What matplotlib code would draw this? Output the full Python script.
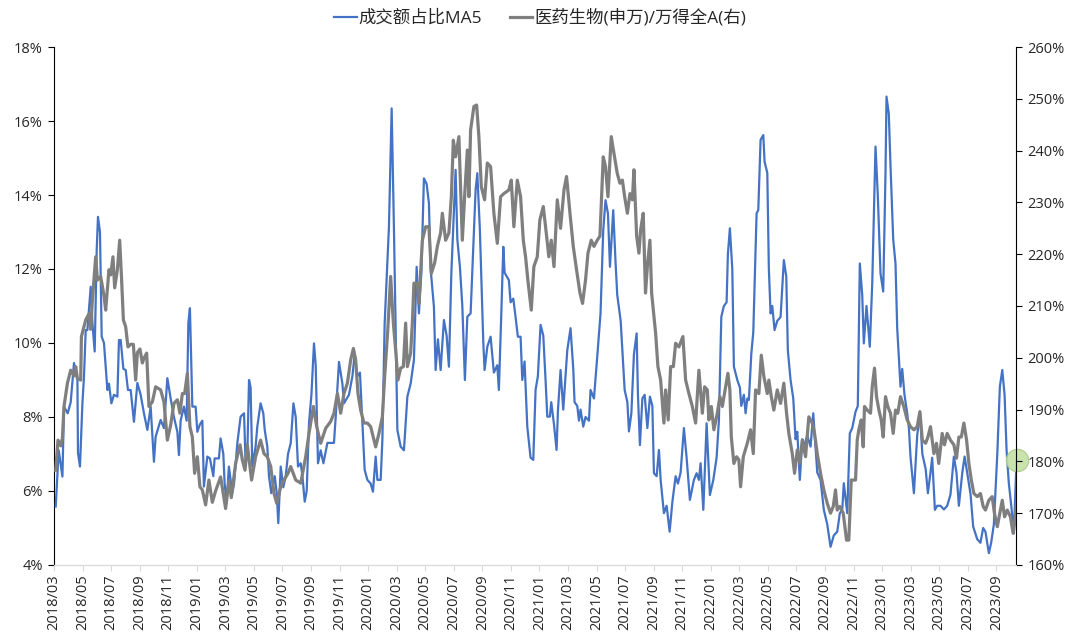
import matplotlib
matplotlib.use("Agg")
from matplotlib import pyplot as plt

plt.rcParams['font.family'] = ['Open Sans', 'Noto Sans CJK SC', 'DejaVu Sans']

# x values are months counted from 2018/03 (0 = 2018/03, 66 = 2023/09)
blue_t = [0.12, 0.33, 0.59, 0.70, 0.96, 1.17, 1.40, 1.64, 1.68, 1.82, 1.99, 2.10, 2.22, 2.34,
          2.57, 2.69, 2.85, 2.99, 3.08, 3.22, 3.34, 3.50, 3.74, 3.85, 4.02, 4.20, 4.44, 4.55,
          4.67, 4.86, 5.02, 5.18, 5.37, 5.60, 5.84, 6.07, 6.30, 6.54, 6.77, 7.00, 7.12, 7.47,
          7.70, 7.94, 8.17, 8.40, 8.64, 8.75, 8.87, 9.10, 9.29, 9.41, 9.52, 9.69, 9.92, 10.04,
          10.22, 10.39, 10.50, 10.74, 10.92, 11.16, 11.25, 11.55, 11.67, 11.86, 11.95, 12.09,
          12.25, 12.49, 12.61, 12.84, 13.07, 13.31, 13.42, 13.54, 13.66, 13.77, 13.89, 14.12,
          14.24, 14.47, 14.66, 14.76, 14.94, 15.06, 15.22, 15.46, 15.60, 15.71, 15.88, 16.06,
          16.23, 16.39, 16.58, 16.77, 16.93, 17.09, 17.28, 17.40, 17.56, 17.70, 17.86, 18.03,
          18.21, 18.33, 18.49, 18.68, 18.87, 19.15, 19.61, 19.73, 19.96, 20.20, 20.31, 20.66,
          20.90, 21.06, 21.25, 21.43, 21.60, 21.76, 21.95, 22.18, 22.34, 22.53, 22.65, 22.88,
          23.00, 23.16, 23.46, 23.65, 23.81, 24.05, 24.28, 24.51, 24.75, 24.98, 25.21, 25.40,
          25.56, 25.73, 25.91, 26.10, 26.26, 26.38, 26.61, 26.73, 26.89, 27.08, 27.31, 27.50,
          27.66, 27.83, 28.13, 28.25, 28.43, 28.60, 28.78, 28.95, 29.18, 29.53, 29.65, 29.83,
          30.07, 30.16, 30.35, 30.58, 30.81, 31.05, 31.16, 31.33, 31.47, 31.56, 31.86, 31.98,
          32.17, 32.33, 32.49, 32.68, 32.80, 32.96, 33.15, 33.38, 33.57, 33.73, 33.89, 34.08,
          34.27, 34.43, 34.55, 34.73, 34.83, 35.02, 35.20, 35.30, 35.48, 35.67, 35.83, 35.95,
          36.18, 36.37, 36.46, 36.65, 36.77, 36.88, 37.07, 37.23, 37.47, 37.58, 37.82, 38.05,
          38.28, 38.47, 38.63, 38.80, 38.94, 39.17, 39.33, 39.45, 39.69, 39.81, 39.97, 40.16,
          40.27, 40.44, 40.62, 40.81, 40.90, 41.04, 41.21, 41.37, 41.56, 41.74, 41.91, 42.02,
          42.21, 42.37, 42.49, 42.72, 42.91, 43.12, 43.31, 43.54, 43.70, 43.89, 44.12, 44.31,
          44.54, 44.82, 45.01, 45.17, 45.29, 45.48, 45.71, 45.94, 46.18, 46.41, 46.57, 46.74,
          46.92, 47.11, 47.20, 47.34, 47.51, 47.62, 47.86, 48.04, 48.14, 48.32, 48.44, 48.56,
          48.67, 48.84, 48.98, 49.21, 49.33, 49.49, 49.68, 49.77, 49.96, 50.07, 50.19, 50.31,
          50.47, 50.66, 50.89, 51.12, 51.29, 51.40, 51.59, 51.78, 51.94, 52.06, 52.24, 52.41,
          52.52, 52.76, 52.99, 53.18, 53.34, 53.46, 53.69, 53.92, 54.16, 54.39, 54.62, 54.86,
          55.04, 55.21, 55.32, 55.44, 55.56, 55.74, 55.91, 56.14, 56.30, 56.44, 56.61, 56.72,
          56.91, 57.14, 57.31, 57.54, 57.70, 57.89, 58.08, 58.24, 58.31, 58.47, 58.59, 58.78,
          58.94, 59.06, 59.29, 59.41, 59.57, 59.76, 59.88, 59.99, 60.23, 60.46, 60.65, 60.82,
          61.05, 61.21, 61.39, 61.51, 61.70, 61.86, 62.09, 62.33, 62.56, 62.79, 63.03, 63.21,
          63.38, 63.62, 63.78, 63.96, 64.20, 64.38, 64.66, 64.89, 65.08, 65.24, 65.48, 65.64,
          65.83, 66.07, 66.25, 66.42, 66.58, 66.72, 66.88, 67.05, 67.23, 67.42]
# 成交额占比MA5 (%)
blue_v = [5.58, 7.1, 6.39, 8.28, 8.1, 8.4, 9.46, 9.0, 7.03, 6.66, 8.37, 9.09, 10.35, 10.35,
          11.52, 10.54, 9.77, 12.5, 13.41, 13.0, 10.17, 10.0, 8.73, 8.9, 8.37, 8.6, 8.55, 10.08,
          10.08, 9.3, 9.27, 8.73, 8.73, 7.87, 8.92, 8.6, 8.1, 7.65, 8.28, 6.79, 7.47, 7.92,
          7.7, 9.05, 8.5, 8.0, 7.6, 6.97, 7.9, 8.28, 7.9, 10.54, 10.94, 8.28, 8.28, 7.6,
          7.8, 7.9, 6.12, 6.93, 6.88, 6.4, 6.88, 6.88, 7.42, 7.0, 6.21, 5.67,
          6.66, 5.94, 6.2, 7.29, 8.01, 8.1, 6.75, 7.0, 9.0, 8.8, 6.66, 7.2,
          7.74, 8.37, 8.1, 7.65, 7.2, 6.39, 5.94, 6.4, 5.94, 5.13, 6.66, 6.1,
          6.4, 7.0, 7.29, 8.37, 8.0, 6.66, 6.75, 6.4, 5.71, 6.0, 7.83, 8.6,
          9.99, 9.4, 6.75, 7.1, 6.75, 7.3, 7.3, 8.0, 9.49, 8.9, 8.37, 8.6,
          9.1, 9.7, 9.1, 9.2, 7.83, 6.57, 6.3, 6.2, 5.98, 6.93, 6.3, 6.3,
          7.38, 10.53, 13.14, 16.34, 13.1, 7.65, 7.2, 7.1, 8.55, 8.9, 9.54, 12.06,
          10.8, 11.9, 14.45, 14.3, 13.78, 12.0, 10.98, 9.27, 10.1, 9.27, 10.62, 10.2,
          9.36, 11.88, 14.68, 12.8, 12.06, 11.0, 9.0, 10.71, 10.8, 14.14, 14.59, 13.05,
          10.0, 9.27, 9.9, 10.17, 9.2, 9.4, 8.73, 10.8, 12.6, 11.9, 11.7, 11.1,
          11.2, 10.7, 10.17, 10.17, 9.0, 9.5, 7.74, 6.9, 6.84, 8.73, 9.1, 10.49,
          10.2, 9.0, 8.01, 8.01, 8.4, 7.8, 7.11, 8.2, 9.27, 8.2, 9.1, 9.8,
          10.4, 9.3, 8.4, 8.3, 7.9, 8.2, 7.74, 8.0, 7.9, 8.73, 8.5, 9.63,
          10.8, 13.05, 13.86, 13.5, 12.06, 13.59, 12.2, 11.3, 10.6, 9.8, 8.73, 8.4,
          7.61, 8.1, 9.7, 10.26, 8.6, 7.24, 8.5, 8.6, 7.7, 8.55, 8.3, 6.48,
          6.4, 7.11, 6.3, 5.4, 5.6, 4.9, 5.7, 6.4, 6.2, 6.5, 7.7, 6.9,
          5.76, 6.3, 6.48, 6.3, 6.75, 5.49, 7.83, 5.89, 6.3, 6.9, 7.9, 10.71,
          11.0, 11.1, 12.4, 13.1, 12.0, 9.36, 9.0, 8.8, 8.3, 8.6, 8.1, 8.5,
          8.46, 9.7, 10.3, 13.5, 13.6, 15.49, 15.62, 14.9, 14.6, 12.0, 10.8, 11.0,
          10.35, 10.6, 10.7, 12.24, 11.8, 9.8, 9.0, 8.5, 7.4, 7.6, 6.3, 7.4,
          7.2, 7.5, 7.2, 8.1, 7.2, 6.5, 6.3, 5.49, 5.1, 4.49, 4.8, 4.9,
          5.4, 5.5, 6.21, 5.8, 5.4, 7.56, 7.7, 8.14, 8.3, 12.15, 11.3, 9.99,
          11.0, 9.9, 11.6, 15.31, 14.0, 11.88, 11.39, 14.6, 16.66, 16.2, 14.8, 12.8,
          12.15, 10.4, 8.82, 9.3, 8.6, 8.1, 7.7, 6.93, 5.94, 7.5, 8.14, 7.0,
          6.6, 5.94, 6.5, 6.9, 5.49, 5.6, 5.6, 5.5, 5.6, 5.9, 6.93, 6.5,
          5.6, 6.5, 6.93, 6.5, 5.9, 5.04, 4.7, 4.6, 5.0, 4.9, 4.32, 4.6,
          5.1, 7.0, 8.82, 9.27, 8.6, 7.1, 6.2, 5.6, 4.86, 6.85]

gray_t = [0.12, 0.28, 0.47, 0.59, 0.70, 0.94, 1.17, 1.40, 1.52, 1.64, 1.87, 1.92, 2.22, 2.45,
          2.57, 2.69, 2.92, 3.04, 3.27, 3.50, 3.62, 3.85, 3.97, 4.13, 4.25, 4.44, 4.60, 4.72,
          4.86, 5.02, 5.18, 5.37, 5.56, 5.72, 5.84, 6.02, 6.19, 6.30, 6.49, 6.65, 6.89, 7.12,
          7.47, 7.70, 7.94, 8.17, 8.40, 8.64, 8.82, 8.99, 9.15, 9.34, 9.52, 9.69, 9.85, 10.04,
          10.22, 10.39, 10.62, 10.85, 11.09, 11.32, 11.67, 12.02, 12.25, 12.42, 12.72, 13.03,
          13.19, 13.38, 13.54, 13.84, 14.12, 14.47, 14.71, 14.94, 15.18, 15.41, 15.60, 15.88,
          16.11, 16.39, 16.58, 16.93, 17.28, 17.63, 17.86, 18.17, 18.40, 18.68, 19.03, 19.38,
          19.61, 19.85, 20.08, 20.31, 20.55, 20.78, 20.97, 21.13, 21.29, 21.48, 21.71, 21.95,
          22.18, 22.53, 22.76, 23.00, 23.16, 23.37, 23.58, 23.77, 23.93, 24.09, 24.28, 24.47,
          24.63, 24.75, 24.98, 25.10, 25.21, 25.45, 25.56, 25.80, 26.03, 26.26, 26.43, 26.66,
          26.85, 27.08, 27.20, 27.43, 27.66, 27.83, 27.97, 28.13, 28.36, 28.60, 28.76, 28.95,
          29.06, 29.18, 29.41, 29.60, 29.76, 29.93, 30.16, 30.35, 30.58, 30.81, 31.05, 31.28,
          31.51, 31.86, 32.03, 32.21, 32.45, 32.68, 32.87, 33.03, 33.19, 33.43, 33.61, 33.85,
          34.03, 34.27, 34.43, 34.66, 34.83, 35.02, 35.25, 35.48, 35.72, 35.90, 36.14, 36.37,
          36.60, 36.84, 37.02, 37.23, 37.40, 37.63, 37.82, 38.05, 38.24, 38.47, 38.63, 38.80,
          39.03, 39.22, 39.45, 39.64, 39.81, 39.97, 40.16, 40.34, 40.51, 40.62, 40.81, 40.97,
          41.09, 41.27, 41.43, 41.56, 41.74, 41.86, 42.02, 42.14, 42.30, 42.49, 42.72, 42.84,
          43.02, 43.19, 43.38, 43.54, 43.77, 44.05, 44.24, 44.47, 44.71, 44.94, 45.17, 45.41,
          45.57, 45.76, 45.87, 46.04, 46.22, 46.46, 46.64, 46.81, 47.04, 47.20, 47.34, 47.44,
          47.62, 47.81, 47.97, 48.09, 48.28, 48.56, 48.79, 48.98, 49.14, 49.37, 49.54, 49.72,
          49.96, 50.07, 50.24, 50.42, 50.66, 50.89, 51.12, 51.31, 51.47, 51.71, 51.87, 52.06,
          52.24, 52.41, 52.64, 52.87, 53.11, 53.27, 53.46, 53.69, 53.92, 54.16, 54.39, 54.58,
          54.74, 54.86, 55.04, 55.28, 55.51, 55.67, 55.84, 56.14, 56.26, 56.37, 56.54, 56.68,
          56.77, 56.96, 57.19, 57.31, 57.47, 57.61, 57.78, 57.94, 58.08, 58.24, 58.40, 58.59,
          58.78, 58.94, 59.10, 59.29, 59.52, 59.76, 59.99, 60.23, 60.46, 60.65, 60.82, 61.05,
          61.21, 61.39, 61.63, 61.81, 61.97, 62.21, 62.37, 62.56, 62.79, 63.03, 63.21, 63.38,
          63.55, 63.73, 63.92, 64.08, 64.25, 64.43, 64.67, 64.89, 65.08, 65.24, 65.48, 65.71,
          65.87, 66.07, 66.25, 66.42, 66.58, 66.77, 66.99, 67.18, 67.34, 67.46]
# 医药生物(申万)/万得全A (%)
gray_v = [178.3, 184.1, 183.0, 184.5, 190.6, 195.1, 197.6, 196.5, 198.3, 196.0, 195.7, 204.1,
          207.3, 208.5, 205.5, 211.2, 219.5, 215.0, 215.7, 212.0, 209.2, 217.0, 216.0, 219.5,
          213.5, 217.0, 222.7, 216.0, 207.3, 206.0, 202.1, 202.6, 202.6, 195.7, 201.0, 201.7,
          199.0, 199.9, 200.9, 190.6, 191.5, 194.4, 193.8, 191.5, 184.1, 187.0, 191.2, 191.9,
          189.3, 193.1, 193.1, 197.0, 186.7, 184.7, 177.7, 180.9, 175.1, 174.5, 171.6, 176.4,
          172.1, 174.3, 177.0, 170.9, 176.2, 173.0, 179.6, 183.2, 180.3, 178.3, 183.2, 176.4,
          180.9, 184.1, 181.5, 180.9, 179.0, 173.8, 171.9, 175.1, 176.4, 177.7, 179.0, 176.4,
          175.8, 180.9, 185.4, 190.6, 186.7, 183.5, 186.4, 187.7, 189.3, 193.1, 189.3, 193.1,
          195.1, 199.6, 201.8, 199.6, 193.1, 189.9, 187.4, 187.4, 186.7, 182.8, 185.4, 188.6,
          196.4, 205.0, 215.7, 206.7, 201.5, 195.7, 198.0, 198.3, 206.7, 198.3, 200.9, 206.7,
          214.4, 214.4, 210.5, 222.7, 225.3, 225.3, 216.3, 218.3, 221.5, 224.1, 227.9, 222.7,
          224.1, 231.1, 242.0, 238.8, 242.7, 222.7, 231.1, 240.1, 231.1, 244.0, 248.5, 248.8,
          242.7, 233.0, 230.5, 237.6, 236.9, 227.9, 222.1, 231.1, 231.7, 232.4, 234.3, 225.3,
          234.3, 231.1, 222.7, 219.5, 215.0, 209.2, 217.6, 219.5, 226.6, 229.2, 225.3, 219.5,
          222.7, 217.6, 230.5, 225.0, 232.4, 235.0, 227.9, 221.5, 217.0, 212.5, 210.5, 215.0,
          220.2, 222.7, 221.5, 222.7, 223.5, 238.8, 236.9, 231.1, 242.7, 239.5, 235.6, 233.7,
          234.3, 231.1, 227.9, 231.7, 230.5, 236.3, 223.5, 220.2, 224.7, 227.9, 212.5, 217.6,
          222.7, 212.5, 208.0, 204.7, 198.3, 195.7, 187.4, 193.8, 188.0, 198.3, 198.3, 202.8,
          202.1, 204.1, 195.7, 193.1, 190.6, 187.4, 197.6, 189.3, 194.4, 193.8, 188.0, 190.6,
          186.1, 189.3, 192.5, 190.6, 194.4, 197.0, 193.8, 184.7, 179.6, 180.9, 180.3, 175.1,
          180.9, 183.5, 186.1, 181.5, 193.8, 193.1, 200.5, 196.4, 193.1, 195.7, 192.5, 189.9,
          193.8, 191.2, 195.1, 189.3, 185.4, 181.5, 177.7, 182.2, 179.6, 184.1, 180.9, 188.6,
          187.4, 185.4, 181.5, 177.7, 174.5, 171.9, 170.0, 171.3, 174.5, 170.6, 171.3, 170.0,
          164.8, 164.8, 176.4, 176.4, 184.1, 186.1, 188.0, 182.8, 190.6, 189.9, 189.3, 194.4,
          198.0, 192.5, 189.9, 188.0, 184.7, 192.5, 190.6, 189.3, 185.4, 189.9, 189.3, 192.5,
          190.6, 188.0, 186.7, 186.1, 186.7, 189.6, 184.1, 183.5, 184.7, 186.7, 181.5, 183.5,
          179.6, 185.4, 183.2, 185.4, 184.1, 183.2, 180.6, 184.7, 184.7, 187.4, 184.1, 179.6,
          176.4, 173.8, 173.2, 173.8, 171.3, 170.6, 172.5, 173.2, 170.0, 167.4, 170.0, 172.5,
          169.3, 170.6, 169.3, 166.1, 169.3, 173.2]

label_blue = "成交额占比MA5"
label_gray = "医药生物(申万)/万得全A(右)"

BLUE = "#4472C4"
GRAY = "#7F7F7F"
TXT = "#262626"

fig = plt.figure(figsize=(10.8, 6.44), dpi=100)
ax = fig.add_axes([0.05, 0.1227, 0.891, 0.8043])
ax2 = ax.twinx()

l1, = ax.plot(blue_t, blue_v, color=BLUE, lw=1.6, zorder=3)
l2, = ax2.plot(gray_t, gray_v, color=GRAY, lw=2.3, zorder=2)

# highlight on the latest blue value
ax.scatter([blue_t[-1]], [blue_v[-1]], s=260, color="#C5E0A5", edgecolor="#A9C98A",
           linewidth=0.8, alpha=0.9, zorder=5, clip_on=False)

ax.set_xlim(0, 67.4)
ax.set_ylim(4, 18)
ax2.set_ylim(160, 260)

ax.set_yticks(range(4, 19, 2))
ax.set_yticklabels([f"{v}%" for v in range(4, 19, 2)])
ax2.set_yticks(range(160, 261, 10))
ax2.set_yticklabels([f"{v}%" for v in range(160, 261, 10)])

ticks = list(range(0, 67, 2))
labels = []
for m in ticks:
    y = 2018 + (2 + m) // 12
    mo = (2 + m) % 12 + 1
    labels.append(f"{y}/{mo:02d}")
ax.set_xticks(ticks)
ax.set_xticklabels(labels, rotation=90)

for a in (ax, ax2):
    a.spines['top'].set_visible(False)
    a.spines['bottom'].set_color("#D9D9D9")
    a.spines['left'].set_color("black")
    a.spines['right'].set_color("black")
    a.tick_params(axis='y', length=4, width=0.8, labelsize=10.5, labelcolor=TXT, pad=4)
ax2.spines['left'].set_visible(False)
ax.spines['right'].set_visible(False)
ax.tick_params(axis='x', length=4, color="#D9D9D9", labelsize=10.5, labelcolor=TXT, pad=3)

fig.legend([l1, l2], [label_blue, label_gray], loc='center', bbox_to_anchor=(0.5, 0.972),
           ncol=2, frameon=False, fontsize=12.5, handlelength=1.3, handletextpad=0.1,
           columnspacing=1.6, labelcolor=TXT)

fig.savefig("out.png", dpi=100)
